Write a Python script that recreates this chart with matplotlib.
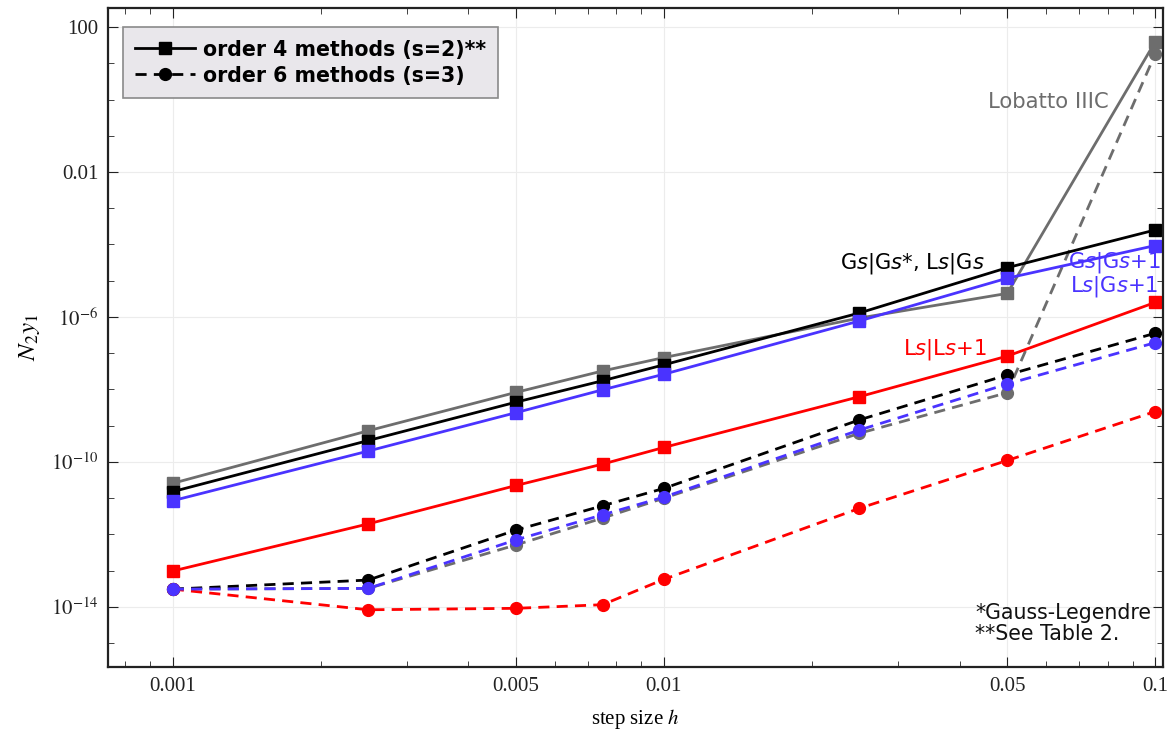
import numpy as np
import matplotlib
matplotlib.use('Agg')
import matplotlib.pyplot as plt
from matplotlib.lines import Line2D
from matplotlib.ticker import FixedLocator, FixedFormatter, NullFormatter

# step sizes
h = [0.001, 0.0025, 0.005, 0.0075, 0.01, 0.025, 0.05, 0.1]

# log10 of N2 y1, order 4 methods (s=2)
o4_lobatto = [-10.59, -9.14, -8.08, -7.49, -7.12, -6.03, -5.35, 1.59]
o4_gauss = [-10.82, -9.41, -8.35, -7.76, -7.32, -5.89, -4.64, -3.60]
o4_ls_ls1 = [-13.01, -11.71, -10.65, -10.06, -9.60, -8.20, -7.08, -5.60]
o4_gs_gs1 = [-11.07, -9.70, -8.64, -8.01, -7.58, -6.11, -4.93, -4.03]

# log10 of N2 y1, order 6 methods (s=3)
o6_lobatto = [-13.51, -13.49, -12.29, -11.55, -11.00, -9.21, -8.09, 1.25]
o6_gauss = [-13.51, -13.26, -11.88, -11.21, -10.73, -8.84, -7.60, -6.45]
o6_ls_ls1 = [-13.51, -14.08, -14.04, -13.94, -13.24, -11.28, -9.96, -8.61]
o6_gs_gs1 = [-13.51, -13.49, -12.15, -11.46, -10.97, -9.12, -7.85, -6.71]

GRAY = '#6d6d6d'
BLUE = '#4a33ff'
RED = '#ff0000'
DASH = (0, (4, 2.6))

plt.rcParams['font.family'] = ['Liberation Serif', 'DejaVu Serif']
plt.rcParams['mathtext.fontset'] = 'stix'

fig = plt.figure(figsize=(11.76, 7.33), dpi=100)
ax = fig.add_axes([0.0918, 0.090, 0.8972, 0.899])

series4 = [(o4_lobatto, GRAY), (o4_gauss, 'black'), (o4_ls_ls1, RED), (o4_gs_gs1, BLUE)]
series6 = [(o6_lobatto, GRAY), (o6_gauss, 'black'), (o6_ls_ls1, RED), (o6_gs_gs1, BLUE)]

for vals, col in series6:
    ax.plot(h, 10.0 ** np.array(vals), ls=DASH, lw=2, color=col,
            marker='o', ms=8.5, mec=col, mfc=col)
for vals, col in series4:
    ax.plot(h, 10.0 ** np.array(vals), ls='-', lw=2, color=col,
            marker='s', ms=8.5, mec=col, mfc=col)

ax.set_xscale('log')
ax.set_yscale('log')
ax.set_xlim(0.000738, 0.1038)
ax.set_ylim(10 ** -15.66, 10 ** 2.524)

xt = [0.001, 0.005, 0.01, 0.05, 0.1]
ax.xaxis.set_major_locator(FixedLocator(xt))
ax.xaxis.set_major_formatter(FixedFormatter(['0.001', '0.005', '0.01', '0.05', '0.1']))
xminor = [k * 1e-4 for k in range(8, 10)] + [k * 1e-3 for k in (2, 3, 4, 6, 7, 8, 9)] + \
         [k * 1e-2 for k in (2, 3, 4, 6, 7, 8, 9)]
ax.xaxis.set_minor_locator(FixedLocator(xminor))
ax.xaxis.set_minor_formatter(NullFormatter())

yt = [1e2, 1e-2, 1e-6, 1e-10, 1e-14]
ax.yaxis.set_major_locator(FixedLocator(yt))
ax.yaxis.set_major_formatter(FixedFormatter(['100', '0.01', r'$10^{-6}$', r'$10^{-10}$', r'$10^{-14}$']))
ax.yaxis.set_minor_locator(FixedLocator([10.0 ** k for k in range(-15, 3)]))
ax.yaxis.set_minor_formatter(NullFormatter())

ax.tick_params(which='both', direction='in', top=True, right=True, labelsize=15, colors='#222222')
ax.tick_params(which='major', length=7, width=0.8, pad=7)
ax.tick_params(which='minor', length=4, width=0.6)
ax.grid(True, which='major', color='#ececec', lw=0.8)
ax.set_axisbelow(True)
for sp in ax.spines.values():
    sp.set_linewidth(1.6)
    sp.set_color('#222222')

ax.set_xlabel('step size $h$', fontsize=15, labelpad=8)
ax.set_ylabel(r'$N_2 y_1$', fontsize=18, labelpad=6)

sans = dict(family='DejaVu Sans', math_fontfamily='dejavusans', fontsize=15.2)
ax.text(0.0605, 0.85, 'Lobatto IIIC', color=GRAY, ha='center', va='center', **sans)
ax.text(0.045, 2.9e-5, r'G$s$|G$s$*, L$s$|G$s$', color='black', ha='right', va='center', **sans)
ax.text(0.103, 3.1e-5, r'G$s$|G$s$+1', color=BLUE, ha='right', va='center', **sans)
ax.text(0.1014, 6.8e-6, r'L$s$|G$s$+1', color=BLUE, ha='right', va='center', **sans)
ax.text(0.0455, 1.3e-7, r'L$s$|L$s$+1', color=RED, ha='right', va='center', **sans)
ax.text(0.822, 0.097, '*Gauss-Legendre\n**See Table 2.', transform=ax.transAxes,
        ha='left', va='top', linespacing=1.05, family='DejaVu Sans', fontsize=14.8, color='#111111')

handles = [
    Line2D([], [], color='black', lw=2, marker='s', ms=8.5),
    Line2D([], [], color='black', lw=2, ls=DASH, marker='o', ms=8.5),
]
leg = ax.legend(handles, ['order 4 methods (s=2)**', 'order 6 methods (s=3)'],
                loc='upper left', bbox_to_anchor=(0.014, 0.971), borderaxespad=0,
                fancybox=False, framealpha=1, facecolor='#e9e7eb', edgecolor='#8a8a8a',
                handlelength=2.9, handletextpad=0.4, borderpad=0.6, labelspacing=0.3,
                prop=dict(family='DejaVu Sans', weight='bold', size=14.8))
leg.get_frame().set_linewidth(1.2)

fig.savefig('out.png', dpi=100)
